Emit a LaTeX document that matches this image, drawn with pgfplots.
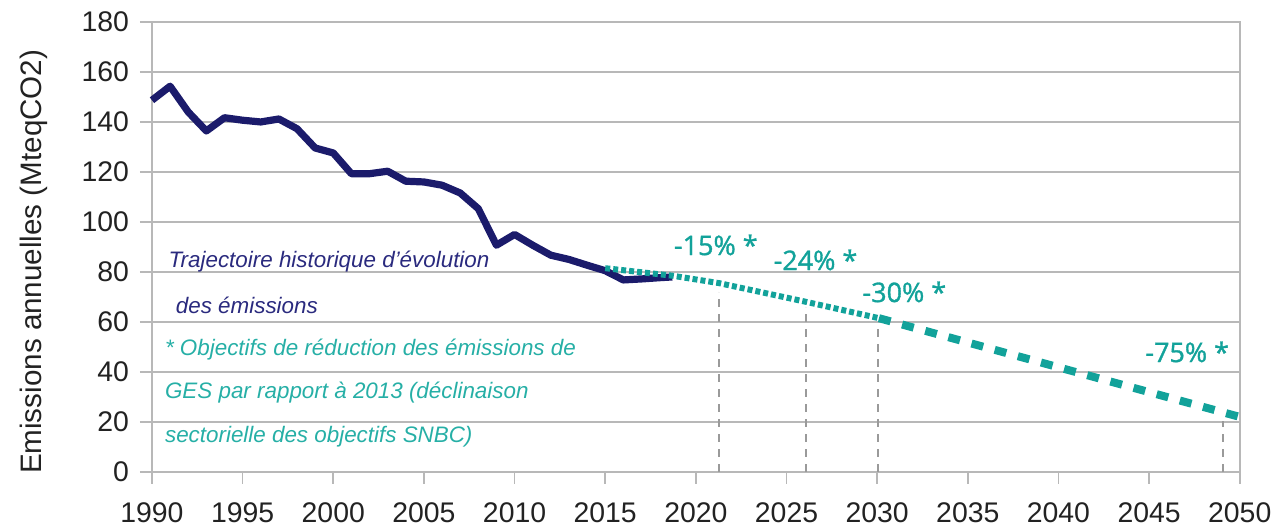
\documentclass[border=0pt]{standalone}
\usepackage{fontspec}
\setmainfont{Liberation Sans}
\newfontfamily\osans[FakeBold=1.2]{Open Sans}
\usepackage{pgfplots}
\pgfplotsset{compat=1.18}
\definecolor{navy}{HTML}{1B1B6B}
\definecolor{navytext}{HTML}{2A2A7E}
\definecolor{teal2}{HTML}{12A29A}
\definecolor{tealtext}{HTML}{26AFA6}
\definecolor{gridg}{HTML}{B8B8B8}
\definecolor{vgray}{HTML}{9A9A9A}
\definecolor{ticktext}{HTML}{222222}
\begin{document}
\begin{tikzpicture}
\begin{axis}[
  scale only axis, width=544pt, height=225pt,
  xmin=1990, xmax=2050, ymin=0, ymax=180,
  xtick={1990,1995,...,2050}, ytick={0,20,...,180},
  /pgf/number format/assume math mode=true,
  /pgf/number format/1000 sep={},
  tick label style={font=\fontsize{14.2}{16}\selectfont, text=ticktext},
  yticklabel style={xshift=-2pt},
  xticklabel style={yshift=-6pt},
  tick align=outside, major tick length=6pt,
  tick pos=left,
  ymajorgrids, grid style={gridg, line width=0.8pt},
  axis line style={gridg, line width=0.8pt},
  major tick style={gridg, line width=0.8pt},
  ylabel={Emissions annuelles (MteqCO2)},
  ylabel style={font=\fontsize{14.8}{16}\selectfont, text=ticktext, at={(axis description cs:-0.109,0.467)}, anchor=center},
  clip=false,
]
% historical trajectory
\addplot[navy, line width=3.6pt, line join=round] coordinates {
(1990,148.7) (1991,154.3) (1992,144) (1993,136.4) (1994,141.7) (1995,140.7)
(1996,140) (1997,141.2) (1998,137.3) (1999,129.6) (2000,127.6) (2001,119.3)
(2002,119.3) (2003,120.3) (2004,116.3) (2005,116) (2006,114.7) (2007,111.6)
(2008,105.3) (2009,90.7) (2010,95) (2011,90.7) (2012,86.7) (2013,85)
(2014,82.7) (2015,80.5) (2016,76.8) (2017,77.2) (2018,77.7) (2018.7,78)
};
% objectives (dotted part)
\addplot[teal2, line width=3pt, dash pattern=on 2.5pt off 1.5pt] coordinates {
(2015,81.5) (2018.7,78.5) (2021.3,75.5) (2026.1,68) (2030.1,61.5)
};
% objectives (dashed part)
\addplot[teal2, line width=4pt, dash pattern=on 6pt off 6pt] coordinates {
(2030.1,61.5) (2050,22)
};
% vertical reference lines
\addplot[vgray, line width=1pt, dash pattern=on 4pt off 3.5pt] coordinates {(2021.3,0) (2021.3,72)};
\addplot[vgray, line width=1pt, dash pattern=on 4pt off 3.5pt] coordinates {(2026.1,0) (2026.1,66)};
\addplot[vgray, line width=1pt, dash pattern=on 4pt off 3.5pt] coordinates {(2030.07,0) (2030.07,58)};
\addplot[vgray, line width=1pt, dash pattern=on 4pt off 3.5pt] coordinates {(2049.1,0) (2049.1,20.5)};
% percentages
\node[font=\osans\fontsize{13.5}{15}\selectfont, text=teal2] at (axis cs:2021.1,90.8) {-15\% *};
\node[font=\osans\fontsize{13.5}{15}\selectfont, text=teal2] at (axis cs:2026.6,84.8) {-24\% *};
\node[font=\osans\fontsize{13.5}{15}\selectfont, text=teal2] at (axis cs:2031.5,72) {-30\% *};
\node[font=\osans\fontsize{13.5}{15}\selectfont, text=teal2] at (axis cs:2047.1,48) {-75\% *};
% legend texts
\node[anchor=west, inner sep=0pt, font=\itshape\fontsize{11.2}{13}\selectfont, text=navytext] at (axis cs:1990.9,84) {Trajectoire historique d'évolution};
\node[anchor=west, inner sep=0pt, font=\itshape\fontsize{11.2}{13}\selectfont, text=navytext] at (axis cs:1991.3,66.8) {des émissions};
\node[anchor=west, inner sep=0pt, font=\itshape\fontsize{11.2}{13}\selectfont, text=tealtext] at (axis cs:1990.7,48.8) {* Objectifs de réduction des émissions de};
\node[anchor=west, inner sep=0pt, font=\itshape\fontsize{11.2}{13}\selectfont, text=tealtext] at (axis cs:1990.7,31.6) {GES par rapport à 2013 (déclinaison};
\node[anchor=west, inner sep=0pt, font=\itshape\fontsize{11.2}{13}\selectfont, text=tealtext] at (axis cs:1990.7,14) {sectorielle des objectifs SNBC)};
\end{axis}
\path (-76pt,-27.5pt) rectangle (563pt,236pt);
\end{tikzpicture}
\end{document}
